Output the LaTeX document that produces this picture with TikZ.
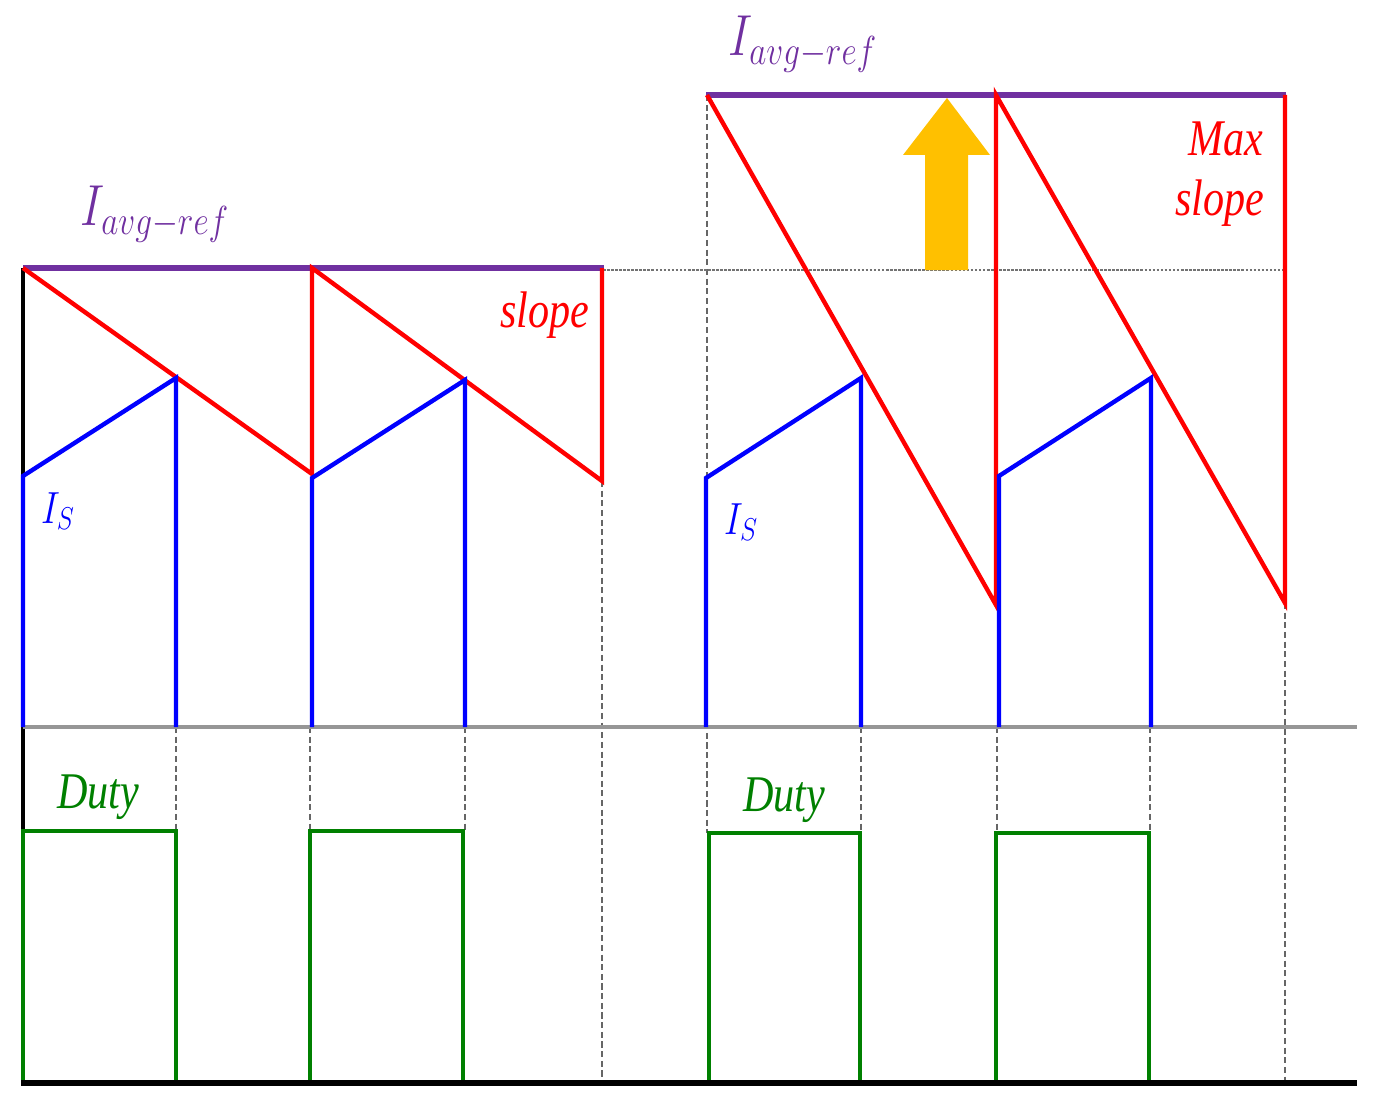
\documentclass[tikz,border=0pt]{standalone}
\usepackage{fix-cm}
\usepackage{fontspec}
\setmainfont{Liberation Serif}
\definecolor{cpurple}{RGB}{112,48,160}
\definecolor{cred}{RGB}{255,0,0}
\definecolor{cblue}{RGB}{0,0,255}
\definecolor{cgreen}{RGB}{0,128,0}
\definecolor{cyellow}{RGB}{255,192,0}
\definecolor{cgray}{RGB}{150,150,150}
\tikzset{
  refline/.style={cpurple, line width=3.2pt},
  rampline/.style={cred, line width=2.5pt, line join=miter},
  curline/.style={cblue, line width=2.5pt, line join=miter},
  dutyline/.style={cgreen, line width=2.6pt, line join=miter},
  guide/.style={black!60, line width=0.9pt, dash pattern=on 3.5pt off 2pt},
  levelguide/.style={black!55, line width=1.1pt, dash pattern=on 1.5pt off 0.8pt},
  lbl/.style={font=\fontsize{24}{28}\selectfont\itshape, inner sep=0pt},
}
\newcommand{\tallt}[1]{\scalebox{1}[1.22]{#1}}
\begin{document}
\begin{tikzpicture}[x=0.02cm,y=-0.02cm]
\useasboundingbox (0,0) rectangle (1380,1115);
% guides
\draw[guide] (176,727) -- (176,831);
\draw[guide] (310,727) -- (310,831);
\draw[guide] (465,727) -- (465,831);
\draw[guide] (602,481) -- (602,1083);
\draw[guide] (707,95) -- (707,833);
\draw[guide] (861,727) -- (861,833);
\draw[guide] (997,727) -- (997,833);
\draw[guide] (1150,727) -- (1150,833);
\draw[guide] (1285,603) -- (1285,1083);
\draw[levelguide] (603,270) -- (1285,270);
% axes
\draw[black, line width=2.4pt] (23,268) -- (23,1083);
\draw[cgray, line width=2.2pt] (23,727) -- (1357,727);
% yellow arrow
\fill[cyellow] (925,270) -- (925,155) -- (903,155) -- (947,98) -- (990,155) -- (968,155) -- (968,270) -- cycle;
% reference levels
\draw[refline] (23,268) -- (604,268);
\draw[refline] (706,95) -- (1286,95);
% ramps
\draw[rampline] (23,268) -- (312,474) -- (312,268) -- (602,481) -- (602,268);
\draw[rampline] (707,95) -- (996,605) -- (996,95) -- (1285,603) -- (1285,95);
% sensed current
\draw[curline] (23,727) -- (23,476) -- (176,378) -- (176,727);
\draw[curline] (312,727) -- (312,478) -- (465,380) -- (465,727);
\draw[curline] (706,727) -- (706,478) -- (861,378) -- (861,727);
\draw[curline] (999,727) -- (999,476) -- (1151,378) -- (1151,727);
% duty
\draw[dutyline] (23,1083) -- (23,831) -- (176,831) -- (176,1083);
\draw[dutyline] (310,1083) -- (310,831) -- (463,831) -- (463,1083);
\draw[dutyline] (709,1083) -- (709,833) -- (860,833) -- (860,1083);
\draw[dutyline] (996,1083) -- (996,833) -- (1149,833) -- (1149,1083);
% bottom axis
\draw[black, line width=3.4pt] (21,1083) -- (1357,1083);
% labels
\node[lbl, cpurple, font=\fontsize{27}{30}\selectfont] (iref1) at (155,214) {\tallt{$I_{avg-ref}$}};
\node[lbl, cpurple, font=\fontsize{27}{30}\selectfont] (iref2) at (803,44) {\tallt{$I_{avg-ref}$}};
\node[lbl, cred] (slope1) at (545,315) {\tallt{slope}};
\node[lbl, cred] (max2) at (1226,139) {\tallt{Max}};
\node[lbl, cred] (slope2) at (1220,203) {\tallt{slope}};
\node[lbl, cblue, font=\fontsize{21}{26}\selectfont] (is1) at (58,511) {\tallt{$I_S$}};
\node[lbl, cblue, font=\fontsize{21}{26}\selectfont] (is2) at (741,522) {\tallt{$I_S$}};
\node[lbl, cgreen] (duty1) at (98,797) {\tallt{Duty}};
\node[lbl, cgreen] (duty2) at (784,800) {\tallt{Duty}};
\end{tikzpicture}
\end{document}
